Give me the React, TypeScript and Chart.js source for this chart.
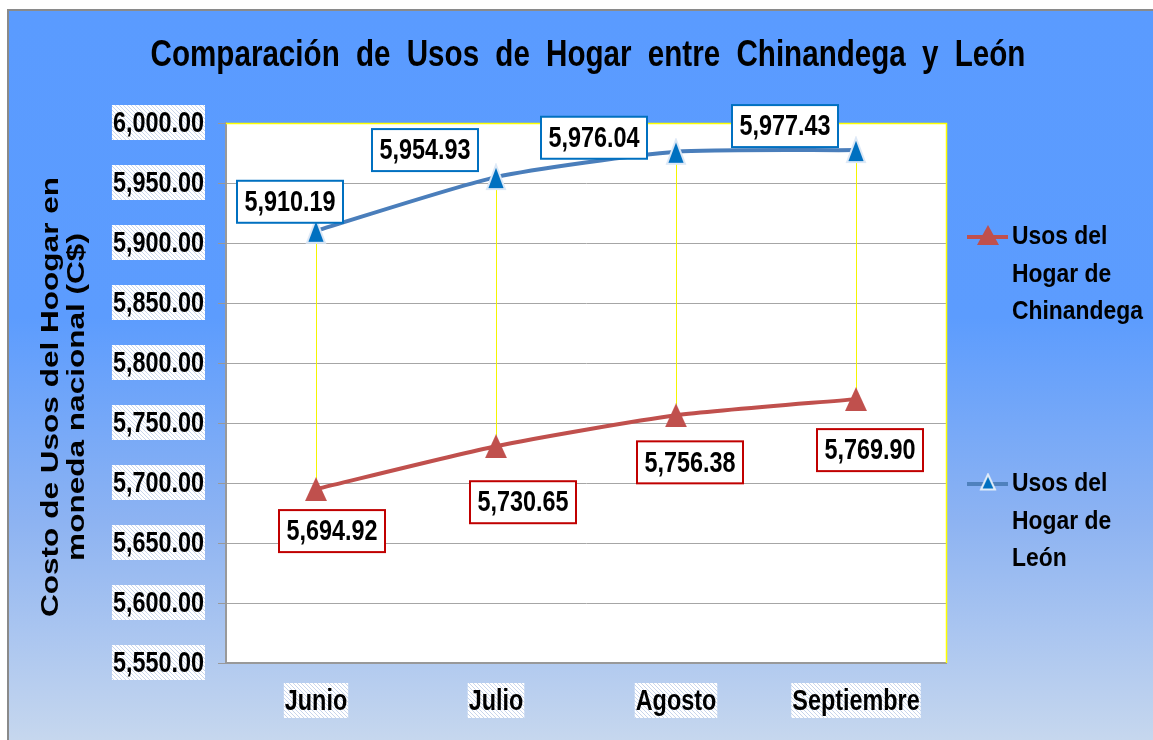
import React, { useEffect, useRef } from "react";
import { Chart, registerables } from "chart.js";

Chart.register(...registerables);

const categories = ["Junio", "Julio", "Agosto", "Septiembre"];
const chinandega = [5694.92, 5730.65, 5756.38, 5769.9];
const leon = [5910.19, 5954.93, 5976.04, 5977.43];
const chinandegaName = ["Usos del", "Hogar de", "Chinandega"];
const leonName = ["Usos del", "Hogar de", "León"];
const titleText = "Comparación de Usos de Hogar entre Chinandega y León";
const yTitleLines = ["Costo de Usos del Hoogar en", "moneda nacional (C$)"];
const yMin = 5550;
const yMax = 6000;
const yStep = 50;

// label offsets in pixels from each point (style only)
const leonLabelOffsets = [[-26, -29], [-71, -27], [-82, -14], [-71, -24]];
const chinLabelOffsets = [[16, 42], [27, 56], [14, 47], [14, 51]];

const SANS = "'Liberation Sans', Arial, sans-serif";
const SQUEEZE = 0.78;

const RED = "#C0504D";
const BLUE_LINE = "#4A7EBB";
const BLUE_MARK = "#0070C0";

const fmt = (v: number) =>
  v.toLocaleString("en-US", { minimumFractionDigits: 2, maximumFractionDigits: 2 });

function narrowText(
  ctx: CanvasRenderingContext2D,
  text: string,
  x: number,
  y: number,
  size: number,
  align: CanvasTextAlign,
  sx = SQUEEZE,
  wordGap = 0
) {
  ctx.save();
  ctx.translate(x, y);
  ctx.scale(sx, 1);
  ctx.font = `bold ${size}px ${SANS}`;
  ctx.textBaseline = "middle";
  ctx.fillStyle = "#000000";
  if (wordGap > 0) {
    const words = text.split(" ");
    const space = ctx.measureText(" ").width + wordGap;
    const widths = words.map((w) => ctx.measureText(w).width);
    const total = widths.reduce((a, b) => a + b, 0) + space * (words.length - 1);
    let cx = align === "center" ? -total / 2 : align === "right" ? -total : 0;
    ctx.textAlign = "left";
    words.forEach((w, i) => {
      ctx.fillText(w, cx, 0);
      cx += widths[i] + space;
    });
  } else {
    ctx.textAlign = align;
    ctx.fillText(text, 0, 0);
  }
  ctx.restore();
}

function narrowWidth(ctx: CanvasRenderingContext2D, text: string, size: number, sx = SQUEEZE) {
  ctx.save();
  ctx.font = `bold ${size}px ${SANS}`;
  const w = ctx.measureText(text).width * sx;
  ctx.restore();
  return w;
}

function triangle(w: number, h: number, fill: string, stroke: string | null, lw: number) {
  const c = document.createElement("canvas");
  c.width = w + lw * 2;
  c.height = h + lw * 2;
  const ctx = c.getContext("2d")!;
  ctx.beginPath();
  ctx.moveTo(c.width / 2, lw);
  ctx.lineTo(c.width - lw, c.height - lw);
  ctx.lineTo(lw, c.height - lw);
  ctx.closePath();
  ctx.fillStyle = fill;
  ctx.fill();
  if (stroke) {
    ctx.lineWidth = lw;
    ctx.strokeStyle = stroke;
    ctx.stroke();
  }
  return c;
}

function hatchPattern(ctx: CanvasRenderingContext2D) {
  const c = document.createElement("canvas");
  c.width = 4;
  c.height = 4;
  const g = c.getContext("2d")!;
  g.fillStyle = "#ffffff";
  g.fillRect(0, 0, 4, 4);
  g.strokeStyle = "#c9d6ec";
  g.lineWidth = 1;
  g.beginPath();
  g.moveTo(0, 0);
  g.lineTo(4, 4);
  g.moveTo(-2, 2);
  g.lineTo(2, 6);
  g.moveTo(2, -2);
  g.lineTo(6, 2);
  g.stroke();
  return ctx.createPattern(c, "repeat")!;
}

export default function App() {
  const ref = useRef<HTMLCanvasElement>(null);

  useEffect(() => {
    const canvas = ref.current!;
    const tickFontSize = 30;
    const yLabelGap = 22;
    const xLabelDrop = 38;

    const decor = {
      id: "decor",
      beforeDraw(chart: any) {
        const { ctx, chartArea } = chart;
        ctx.save();
        ctx.fillStyle = "#ffffff";
        ctx.fillRect(chartArea.left, chartArea.top, chartArea.right - chartArea.left, chartArea.bottom - chartArea.top);
        const pat = hatchPattern(ctx);
        const ys = chart.scales.y;
        const right = chartArea.left - yLabelGap;
        ys.ticks.forEach((t: any, i: number) => {
          const label = fmt(t.value);
          const w = narrowWidth(ctx, label, tickFontSize);
          const py = ys.getPixelForTick(i);
          ctx.fillStyle = pat;
          ctx.fillRect(right - w - 1, py - 18, w + 2, 35);
          narrowText(ctx, label, right, py + 1, tickFontSize, "right");
        });
        const xs = chart.scales.x;
        xs.ticks.forEach((t: any, i: number) => {
          const label = categories[i];
          const w = narrowWidth(ctx, label, tickFontSize);
          const px = xs.getPixelForTick(i);
          const cy = chartArea.bottom + xLabelDrop;
          ctx.fillStyle = pat;
          ctx.fillRect(px - w / 2 - 1, cy - 18, w + 2, 35);
          narrowText(ctx, label, px, cy + 1, tickFontSize, "center");
        });
        ctx.restore();
      },
      beforeDatasetsDraw(chart: any) {
        const { ctx, chartArea } = chart;
        const m0 = chart.getDatasetMeta(0).data;
        const m1 = chart.getDatasetMeta(1).data;
        ctx.save();
        ctx.strokeStyle = "#FFFF00";
        ctx.lineWidth = 1.5;
        ctx.beginPath();
        ctx.moveTo(chartArea.left, chartArea.top + 0.5);
        ctx.lineTo(chartArea.right + 0.5, chartArea.top + 0.5);
        ctx.lineTo(chartArea.right + 0.5, chartArea.bottom);
        ctx.stroke();
        ctx.lineWidth = 1;
        ctx.strokeStyle = "#F5F500";
        for (let i = 0; i < m0.length; i++) {
          const x = Math.round(m0[i].x) + 0.5;
          ctx.beginPath();
          ctx.moveTo(x, m1[i].y);
          ctx.lineTo(x, m0[i].y);
          ctx.stroke();
        }
        ctx.restore();
      },
      afterDatasetsDraw(chart: any) {
        const { ctx } = chart;
        ctx.save();
        const drawBox = (meta: any, vals: number[], offs: number[][], color: string) => {
          meta.data.forEach((p: any, i: number) => {
            const cx = p.x + offs[i][0];
            const cy = p.y + offs[i][1];
            const w = 106;
            const h = 42;
            ctx.fillStyle = "#ffffff";
            ctx.fillRect(cx - w / 2, cy - h / 2, w, h);
            ctx.strokeStyle = color;
            ctx.lineWidth = 2;
            ctx.strokeRect(cx - w / 2, cy - h / 2, w, h);
            narrowText(ctx, fmt(vals[i]), cx, cy + 1, 30, "center");
          });
        };
        drawBox(chart.getDatasetMeta(1), leon, leonLabelOffsets, "#0070C0");
        drawBox(chart.getDatasetMeta(0), chinandega, chinLabelOffsets, "#C00000");
        ctx.restore();
      },
      afterDraw(chart: any) {
        const { ctx, chartArea } = chart;
        ctx.save();
        // title
        narrowText(ctx, titleText, (chartArea.left + chartArea.right) / 2 + 2, 45, 37, "center", 0.8, 10);
        // y title (stretched along its direction)
        ctx.font = `bold 23px ${SANS}`;
        ctx.fillStyle = "#000000";
        ctx.textAlign = "center";
        ctx.textBaseline = "middle";
        const w1 = ctx.measureText(yTitleLines[0]).width;
        const sx = 440 / w1;
        const cy = (chartArea.top + chartArea.bottom) / 2 + 4;
        [43, 69].forEach((cx, i) => {
          ctx.save();
          ctx.translate(cx, cy);
          ctx.rotate(-Math.PI / 2);
          ctx.scale(sx, 1);
          ctx.fillText(yTitleLines[i], 0, 0);
          ctx.restore();
        });
        // legend
        const lx = chartArea.right + 21;
        const items = [
          { name: chinandegaName, color: RED, mark: triangle(22, 20, RED, null, 0), y: 226 },
          { name: leonName, color: "#4F81BD", mark: triangle(14, 15, BLUE_MARK, "#E0ECF8", 2), y: 473 },
        ];
        items.forEach((it) => {
          ctx.strokeStyle = it.color;
          ctx.lineWidth = 4;
          ctx.beginPath();
          ctx.moveTo(lx, it.y);
          ctx.lineTo(lx + 41, it.y);
          ctx.stroke();
          ctx.drawImage(it.mark, lx + 21 - it.mark.width / 2, it.y - it.mark.height / 2 - 2);
          it.name.forEach((line, j) => {
            narrowText(ctx, line, lx + 45, it.y + j * 37.5, 26, "left", 0.88);
          });
        });
        ctx.restore();
      },
    };

    const chart = new Chart(canvas, {
      type: "line",
      data: {
        labels: categories,
        datasets: [
          {
            label: chinandegaName.join(" "),
            data: chinandega,
            borderColor: RED,
            borderWidth: 4,
            tension: 0.2,
            pointStyle: triangle(22, 24, RED, null, 0) as any,
            pointRadius: 12,
            pointHoverRadius: 12,
          },
          {
            label: leonName.join(" "),
            data: leon,
            borderColor: BLUE_LINE,
            borderWidth: 4,
            tension: 0.2,
            pointStyle: triangle(18, 24, BLUE_MARK, "#DCE8F6", 2) as any,
            pointRadius: 12,
            pointHoverRadius: 12,
          },
        ],
      },
      options: {
        responsive: false,
        animation: false,
        events: [],
        layout: { padding: { left: 100, top: 112, right: 207, bottom: 27 } },
        plugins: {
          legend: { display: false },
          title: { display: false },
          tooltip: { enabled: false },
        },
        scales: {
          x: {
            offset: true,
            grid: { display: false, drawTicks: false },
            border: { color: "#999999", width: 2 },
            ticks: {
              color: "rgba(0,0,0,0)",
              padding: 20,
              font: { family: SANS, size: 20, weight: "bold" },
            },
            afterFit: (s: any) => {
              s.height = 50;
            },
          },
          y: {
            min: yMin,
            max: yMax,
            grid: { color: "#A6A6A6", lineWidth: 1, tickLength: 8, tickColor: "#999999" },
            border: { color: "#999999", width: 2 },
            ticks: {
              stepSize: yStep,
              color: "rgba(0,0,0,0)",
              padding: 14,
              font: { family: SANS, size: 12, weight: "bold" },
              callback: (v: any) => fmt(Number(v)),
            },
            afterFit: (s: any) => {
              s.width = 117;
            },
          },
        },
      },
      plugins: [decor],
    });
    return () => chart.destroy();
  }, []);

  return (
    <div
      style={{
        position: "fixed",
        left: 7,
        top: 9,
        right: 0,
        bottom: 0,
        overflow: "hidden",
        borderLeft: "2px solid #8a8a8a",
        borderTop: "2px solid #8a8a8a",
        background: "linear-gradient(180deg, #5A9BFF 0%, #5C9CFE 42%, #8DB3F2 70%, #C6D7EE 100%)",
      }}
    >
      <canvas ref={ref} width={1144} height={729} style={{ display: "block" }} />
    </div>
  );
}
